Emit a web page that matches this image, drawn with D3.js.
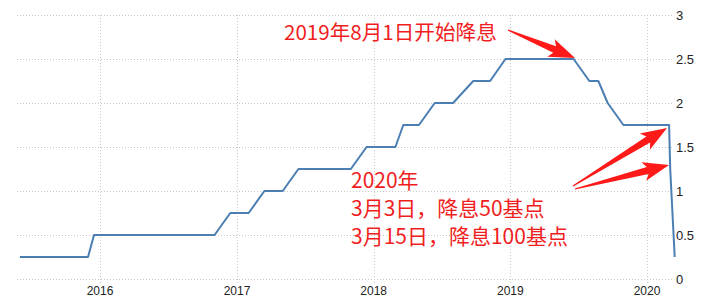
<!DOCTYPE html>
<html>
<head>
<meta charset="utf-8">
<script src="https://cdn.jsdelivr.net/npm/d3@7"></script>
<style>
  body { margin: 0; background: #fff; }
  svg { display: block; }
  .grid line { stroke: #c8c8c8; stroke-dasharray: 1,2; shape-rendering: crispEdges; }
  .tick-label { font-family: "Liberation Sans Narrow", "Liberation Sans", Arial, sans-serif; font-size: 12px; fill: #222; }
  .ylab { font-size: 13px; }
  .note { font-family: "Noto Sans CJK SC", sans-serif; fill: #f01e1e; }
</style>
</head>
<body>
<svg id="chart" width="710" height="306"></svg>
<script>
// policy rate steps
const dates = [
  '2015-06-01', '2015-11-30', '2015-12-16', '2016-11-02', '2016-12-14',
  '2017-02-01', '2017-03-15', '2017-05-03', '2017-06-14', '2017-11-01',
  '2017-12-13', '2018-02-28', '2018-03-21', '2018-05-02', '2018-06-13',
  '2018-08-01', '2018-09-24', '2018-11-08', '2018-12-19', '2019-06-19',
  '2019-07-31', '2019-08-24', '2019-09-18', '2019-10-30', '2020-02-29',
  '2020-03-03', '2020-03-15'
];
const rates = [
  0.25, 0.25, 0.5, 0.5, 0.75,
  0.75, 1.0, 1.0, 1.25, 1.25,
  1.5, 1.5, 1.75, 1.75, 2.0,
  2.0, 2.25, 2.25, 2.5, 2.5,
  2.25, 2.25, 2.0, 1.75, 1.75,
  1.25, 0.25
];
const yearTicks = ['2016', '2017', '2018', '2019', '2020'];
const rateTicks = [0, 0.5, 1, 1.5, 2, 2.5, 3];

const parse = d3.timeParse('%Y-%m-%d');
const data = dates.map((d, i) => ({ date: parse(d), value: rates[i] }));

const svg = d3.select('#chart');
const left = 17, right = 673;

var x = d3.scaleTime()
  .domain([parse('2016-01-01'), parse('2020-01-01')])
  .range([100, 647]);
var y = d3.scaleLinear().domain([0, 3]).range([279, 15]);

// grid
const grid = svg.append('g').attr('class', 'grid');
grid.selectAll('line.h')
  .data(rateTicks)
  .enter()
  .append('line')
  .attr('x1', left).attr('x2', right)
  .attr('y1', d => Math.round(y(d)) + 0.5)
  .attr('y2', d => Math.round(y(d)) + 0.5);
grid.selectAll('line.v')
  .data(yearTicks)
  .enter()
  .append('line')
  .attr('x1', d => Math.round(x(parse(d + '-01-01'))) + 0.5)
  .attr('x2', d => Math.round(x(parse(d + '-01-01'))) + 0.5)
  .attr('y1', 15).attr('y2', 283);

// tick labels
svg.append('g')
  .selectAll('text')
  .data(yearTicks)
  .enter()
  .append('text')
  .attr('class', 'tick-label')
  .attr('x', d => x(parse(d + '-01-01')))
  .attr('y', 295)
  .attr('text-anchor', 'middle')
  .text(d => d);

svg.append('g')
  .selectAll('text')
  .data(rateTicks)
  .enter()
  .append('text')
  .attr('class', 'tick-label ylab')
  .attr('x', 676)
  .attr('y', d => y(d) + 4.5)
  .text(d => d);

// the rate line
const line = d3.line()
  .x(d => x(d.date))
  .y(d => y(d.value));

svg.append('path')
  .datum(data)
  .attr('d', line)
  .attr('fill', 'none')
  .attr('stroke', '#4b7fb3')
  .attr('stroke-width', 2)
  .attr('stroke-linejoin', 'round');

// tapered red arrows
function arrow(x1, y1, x2, y2) {
  const dx = x2 - x1, dy = y2 - y1;
  const len = Math.sqrt(dx * dx + dy * dy);
  const ux = dx / len, uy = dy / len;
  const nx = -uy, ny = ux;
  const headLen = 22, headW = 9.5, shaftW = 3.6;
  const bx = x2 - ux * headLen, by = y2 - uy * headLen;
  const pts = [
    [x1 + nx * 0.6, y1 + ny * 0.6],
    [bx + nx * shaftW, by + ny * shaftW],
    [bx + nx * headW - ux * 4, by + ny * headW - uy * 4],
    [x2, y2],
    [bx - nx * headW - ux * 4, by - ny * headW - uy * 4],
    [bx - nx * shaftW, by - ny * shaftW],
    [x1 - nx * 0.6, y1 - ny * 0.6]
  ];
  svg.append('polygon')
    .attr('points', pts.map(p => p.join(',')).join(' '))
    .attr('fill', '#ff1a1a');
}

arrow(508, 30, 575, 58);
arrow(573, 186, 667, 128);
arrow(575, 189, 669, 165);

// notes
svg.append('text')
  .attr('class', 'note')
  .attr('x', 284).attr('y', 39.5)
  .style('font-size', '20.6px')
  .text('2019年8月1日开始降息');

const noteLines = ['2020年', '3月3日，降息50基点', '3月15日，降息100基点'];
svg.append('g')
  .selectAll('text')
  .data(noteLines)
  .enter()
  .append('text')
  .attr('class', 'note')
  .attr('x', 351)
  .attr('y', (d, i) => 188 + i * 28)
  .style('font-size', '21px')
  .text(d => d);
</script>
</body>
</html>
